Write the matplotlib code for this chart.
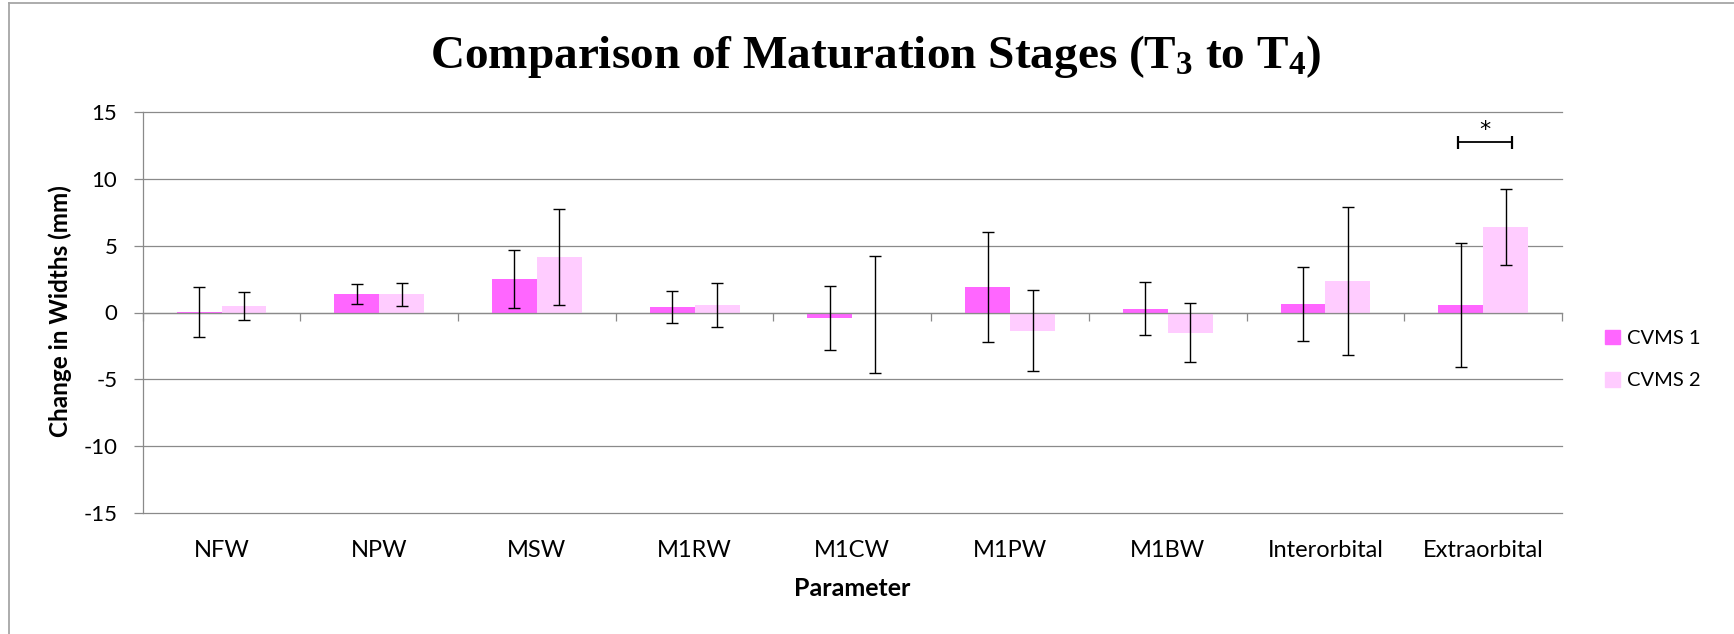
import numpy as np
import matplotlib
matplotlib.use('Agg')
import matplotlib.pyplot as plt
from matplotlib.lines import Line2D
from matplotlib.patches import Patch

# mean change in width (mm) from T3 to T4 and the error bar half-lengths
parameters = ['NFW', 'NPW', 'MSW', 'M1RW', 'M1CW', 'M1PW', 'M1BW', 'Interorbital', 'Extraorbital']
cvms1 = [0.05, 1.40, 2.51, 0.40, -0.42, 1.89, 0.28, 0.61, 0.53]
cvms1_err = [1.89, 0.75, 2.15, 1.22, 2.40, 4.12, 1.99, 2.76, 4.63]
cvms2 = [0.48, 1.36, 4.16, 0.56, -0.13, -1.36, -1.50, 2.38, 6.36]
cvms2_err = [1.04, 0.84, 3.57, 1.66, 4.38, 3.03, 2.22, 5.52, 2.84]
series_names = ['CVMS 1', 'CVMS 2']
series_colors = ['#FF66FF', '#FFCCFF']

# significant difference between stages
sig_param = 'Extraorbital'
sig_level = 12.7

plt.rcParams['font.family'] = ['Lato', 'DejaVu Sans']
plt.rcParams['axes.unicode_minus'] = False
plt.rcParams['mathtext.fontset'] = 'custom'
plt.rcParams['mathtext.rm'] = 'Liberation Serif:bold'
plt.rcParams['mathtext.it'] = 'Liberation Serif:bold'
plt.rcParams['mathtext.bf'] = 'Liberation Serif:bold'

W, H = 1734, 634
fig = plt.figure(figsize=(W / 100, H / 100), dpi=100)
ax = fig.add_axes([142.7 / W, 1 - 513.3 / H, (1562 - 142.7) / W, (513.3 - 111.7) / H])

grid_col = '#8a8a8a'
x = np.arange(len(parameters))
bw = 0.285

ax.bar(x - bw / 2, cvms1, bw, color=series_colors[0], zorder=2)
ax.bar(x + bw / 2, cvms2, bw, color=series_colors[1], zorder=2)
ax.errorbar(x - bw / 2, cvms1, yerr=cvms1_err, fmt='none', ecolor='black',
            elinewidth=1.0, capsize=4.3, capthick=1.0, zorder=3)
ax.errorbar(x + bw / 2, cvms2, yerr=cvms2_err, fmt='none', ecolor='black',
            elinewidth=1.0, capsize=4.3, capthick=1.0, zorder=3)

# significance bracket
xi = parameters.index(sig_param)
x0, x1 = xi - 0.162, xi + 0.183
ax.plot([x0, x1], [sig_level, sig_level], color='black', lw=1.3, zorder=3)
ax.vlines([x0, x1], sig_level - 0.46, sig_level + 0.46, color='black', lw=1.6, zorder=3)
ax.text((x0 + x1) / 2, sig_level + 0.15, '*', ha='center', va='bottom', fontsize=16,
        family='DejaVu Sans')

ax.set_xlim(-0.5, len(parameters) - 0.5)
ax.set_ylim(-15, 15)
ax.set_yticks(np.arange(-15, 16, 5))
ax.yaxis.grid(True, color=grid_col, lw=0.9, zorder=0, clip_on=False)
ax.set_axisbelow(True)

for s in ['top', 'right']:
    ax.spines[s].set_visible(False)
ax.spines['left'].set_color(grid_col)
ax.spines['left'].set_linewidth(0.9)
ax.spines['bottom'].set_position(('data', 0))
ax.spines['bottom'].set_color(grid_col)
ax.spines['bottom'].set_linewidth(0.9)
ax.spines['bottom'].set_zorder(2.5)

ax.tick_params(axis='y', direction='out', length=6.2, width=0.9, color=grid_col,
               labelsize=16, pad=12)
ax.set_xticks(np.arange(-0.5, len(parameters), 1.0))
ax.tick_params(axis='x', direction='out', length=6, width=0.9, color=grid_col,
               labelbottom=False)

# category labels along the bottom edge
sec = ax.secondary_xaxis(0)
sec.set_xticks(x)
sec.set_xticklabels(parameters)
sec.tick_params(length=0, labelsize=17, pad=19)
sec.spines['bottom'].set_visible(False)

fig.text(876 / W, 1 - 56 / H, 'Comparison of Maturation Stages (T$_3$ to T$_4$)',
         ha='center', va='center', fontsize=34, family='Liberation Serif', weight='bold')
fig.text(60 / W, 1 - 311 / H, 'Change in Widths (mm)', rotation=90, ha='center',
         va='center', fontsize=17.5, weight='bold')
fig.text(852 / W, 1 - 588 / H, 'Parameter', ha='center', va='center', fontsize=18,
         weight='bold')

handles = [Patch(color=c, label=n) for c, n in zip(series_colors, series_names)]
fig.legend(handles=handles, loc='center left', bbox_to_anchor=(1605 / W, 1 - 359.5 / H),
           frameon=False, fontsize=14.5, handlelength=0.75, handleheight=0.75,
           handletextpad=0.36, labelspacing=1.25, borderpad=0, borderaxespad=0)

# chart frame lines
fig.add_artist(Line2D([9 / W, 9 / W], [0, 1 - 3.3 / H], color='#a6a6a6', lw=1.3))
fig.add_artist(Line2D([9 / W, 1], [1 - 3.3 / H, 1 - 3.3 / H], color='#a6a6a6', lw=1.3))

fig.savefig('out.png', dpi=100)
